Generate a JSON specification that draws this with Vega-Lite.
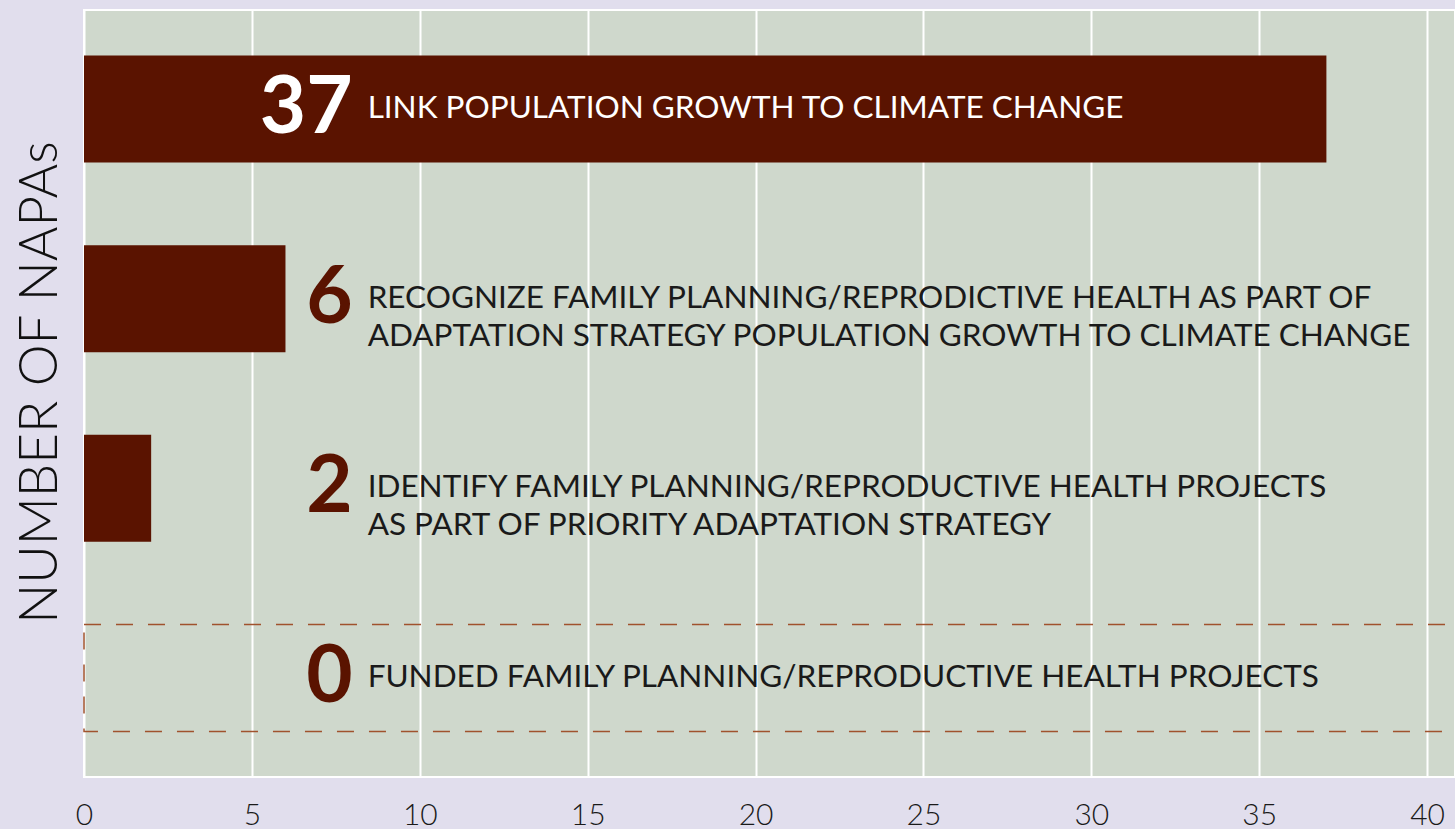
{
  "$schema": "https://vega.github.io/schema/vega-lite/v6.json",
  "width": 1371,
  "height": 767,
  "autosize": {"type": "none"},
  "padding": {"left": 84, "top": 10, "right": 0, "bottom": 52},
  "background": "#e1deed",
  "config": {
    "view": {"fill": "#cfd8cc", "stroke": "#ffffff", "strokeWidth": 2},
    "font": "Lato"
  },
  "data": {
    "values": [
      {"value": 37, "label": "LINK POPULATION GROWTH TO CLIMATE CHANGE"},
      {"value": 6, "label": "RECOGNIZE FAMILY PLANNING/REPRODICTIVE HEALTH AS PART OF|ADAPTATION STRATEGY POPULATION GROWTH TO CLIMATE CHANGE"},
      {"value": 2, "label": "IDENTIFY FAMILY PLANNING/REPRODUCTIVE HEALTH PROJECTS|AS PART OF PRIORITY ADAPTATION STRATEGY"},
      {"value": 0, "label": "FUNDED FAMILY PLANNING/REPRODUCTIVE HEALTH PROJECTS"}
    ]
  },
  "encoding": {
    "y": {
      "field": "value",
      "type": "ordinal",
      "sort": "descending",
      "scale": {"paddingInner": 0.436, "paddingOuter": 0.24},
      "axis": {
        "title": "NUMBER OF NAPAs",
        "labels": false,
        "ticks": false,
        "domain": false,
        "grid": false,
        "titleFont": "Lato",
        "titleFontWeight": 300,
        "titleFontSize": 53,
        "titleColor": "#111111",
        "titleAngle": -90,
        "titleX": -28,
        "titleY": 372,
        "titleAlign": "center",
        "titleBaseline": "alphabetic"
      }
    }
  },
  "layer": [
    {
      "mark": {"type": "bar", "color": "#5a1300"},
      "encoding": {
        "x": {
          "field": "value",
          "type": "quantitative",
          "stack": null,
          "scale": {"domain": [0, 40.83], "nice": false},
          "axis": {
            "title": null,
            "values": [0, 5, 10, 15, 20, 25, 30, 35, 40],
            "grid": true,
            "gridColor": "#ffffff",
            "gridWidth": 2,
            "gridOpacity": 1,
            "ticks": false,
            "domain": false,
            "labelFont": "Lato",
            "labelFontWeight": 300,
            "labelFontSize": 30,
            "labelColor": "#1a1a1a",
            "labelPadding": 23,
            "labelFlush": false,
            "labelOverlap": false
          }
        }
      }
    },
    {
      "transform": [{"filter": "datum.value == 0"}],
      "mark": {"type": "bar", "fill": "transparent", "stroke": "#a0522d", "strokeWidth": 1.5, "strokeDash": [17, 15]},
      "encoding": {
        "x": {"datum": 0},
        "x2": {"datum": 41.5}
      }
    },
    {
      "mark": {"type": "text", "align": "right", "baseline": "middle", "fontSize": 80, "fontWeight": "bold", "font": "Lato"},
      "encoding": {
        "x": {"datum": 8},
        "text": {"field": "value", "type": "quantitative"},
        "color": {
          "condition": {"test": "datum.value > 20", "value": "#ffffff"},
          "value": "#5a1300"
        }
      }
    },
    {
      "mark": {"type": "text", "align": "left", "baseline": "middle", "dx": 15, "fontSize": 31.5, "font": "Lato", "lineBreak": "|", "lineHeight": 38},
      "encoding": {
        "x": {"datum": 8},
        "text": {"field": "label", "type": "nominal"},
        "color": {
          "condition": {"test": "datum.value > 20", "value": "#ffffff"},
          "value": "#1a1a1a"
        }
      }
    }
  ]
}
